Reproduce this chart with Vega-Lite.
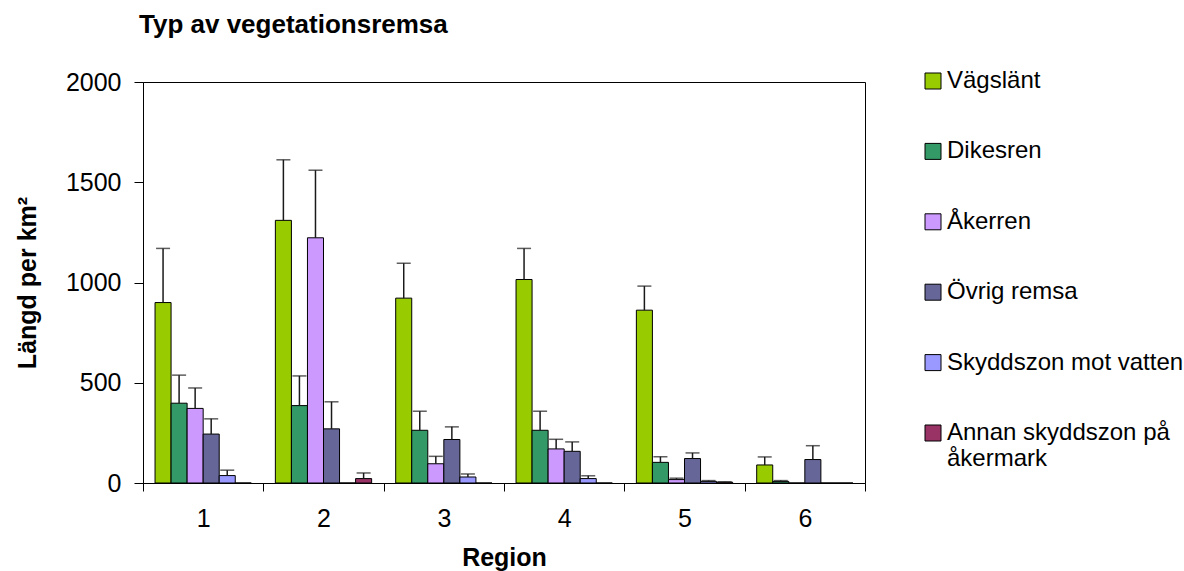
{
  "$schema": "https://vega.github.io/schema/vega-lite/v6.json",
  "width": 722,
  "height": 401,
  "autosize": {"type": "none"},
  "padding": {"left": 143, "top": 82, "right": 319, "bottom": 88},
  "background": "white",
  "title": {
    "text": "Typ av vegetationsremsa",
    "anchor": "start",
    "frame": "group",
    "font": "Liberation Sans",
    "fontSize": 26,
    "fontWeight": "bold",
    "color": "black",
    "baseline": "alphabetic",
    "offset": 10,
    "dx": -4
  },
  "config": {
    "font": "Liberation Sans",
    "view": {"stroke": "black", "strokeWidth": 1},
    "axis": {
      "grid": false,
      "domainColor": "black",
      "domainWidth": 1,
      "tickColor": "black",
      "tickWidth": 1,
      "labelColor": "black",
      "labelFont": "Liberation Sans",
      "labelFontSize": 25,
      "titleFont": "Liberation Sans",
      "titleFontSize": 25,
      "titleFontWeight": "bold",
      "titleColor": "black"
    },
    "legend": {
      "labelFont": "Liberation Sans",
      "labelFontSize": 24,
      "labelColor": "black"
    }
  },
  "data": {
    "values": [
      {"region": 1, "typ": "Vägslänt", "varde": 900, "ovre": 1170},
      {"region": 1, "typ": "Dikesren", "varde": 398, "ovre": 538},
      {"region": 1, "typ": "Åkerren", "varde": 372, "ovre": 474},
      {"region": 1, "typ": "Övrig remsa", "varde": 244, "ovre": 320},
      {"region": 1, "typ": "Skyddszon mot vatten", "varde": 37, "ovre": 64},
      {"region": 1, "typ": "Annan skyddszon på åkermark", "varde": 0, "ovre": 0},
      {"region": 2, "typ": "Vägslänt", "varde": 1310, "ovre": 1612},
      {"region": 2, "typ": "Dikesren", "varde": 386, "ovre": 534},
      {"region": 2, "typ": "Åkerren", "varde": 1223, "ovre": 1560},
      {"region": 2, "typ": "Övrig remsa", "varde": 270, "ovre": 405},
      {"region": 2, "typ": "Skyddszon mot vatten", "varde": 0, "ovre": 0},
      {"region": 2, "typ": "Annan skyddszon på åkermark", "varde": 22, "ovre": 50},
      {"region": 3, "typ": "Vägslänt", "varde": 922, "ovre": 1096},
      {"region": 3, "typ": "Dikesren", "varde": 263, "ovre": 358},
      {"region": 3, "typ": "Åkerren", "varde": 96, "ovre": 133},
      {"region": 3, "typ": "Övrig remsa", "varde": 217, "ovre": 280},
      {"region": 3, "typ": "Skyddszon mot vatten", "varde": 30, "ovre": 45},
      {"region": 3, "typ": "Annan skyddszon på åkermark", "varde": 0, "ovre": 0},
      {"region": 4, "typ": "Vägslänt", "varde": 1015, "ovre": 1170},
      {"region": 4, "typ": "Dikesren", "varde": 263, "ovre": 358},
      {"region": 4, "typ": "Åkerren", "varde": 170, "ovre": 218},
      {"region": 4, "typ": "Övrig remsa", "varde": 158, "ovre": 205},
      {"region": 4, "typ": "Skyddszon mot vatten", "varde": 22, "ovre": 36},
      {"region": 4, "typ": "Annan skyddszon på åkermark", "varde": 0, "ovre": 0},
      {"region": 5, "typ": "Vägslänt", "varde": 862, "ovre": 982},
      {"region": 5, "typ": "Dikesren", "varde": 103, "ovre": 131},
      {"region": 5, "typ": "Åkerren", "varde": 17, "ovre": 24},
      {"region": 5, "typ": "Övrig remsa", "varde": 122, "ovre": 150},
      {"region": 5, "typ": "Skyddszon mot vatten", "varde": 8, "ovre": 12},
      {"region": 5, "typ": "Annan skyddszon på åkermark", "varde": 4, "ovre": 6},
      {"region": 6, "typ": "Vägslänt", "varde": 90, "ovre": 130},
      {"region": 6, "typ": "Dikesren", "varde": 8, "ovre": 12},
      {"region": 6, "typ": "Åkerren", "varde": 0, "ovre": 0},
      {"region": 6, "typ": "Övrig remsa", "varde": 117, "ovre": 186},
      {"region": 6, "typ": "Skyddszon mot vatten", "varde": 0, "ovre": 0},
      {"region": 6, "typ": "Annan skyddszon på åkermark", "varde": 0, "ovre": 0}
    ]
  },
  "encoding": {
    "x": {
      "field": "region",
      "type": "ordinal",
      "scale": {"paddingInner": 0, "paddingOuter": 0},
      "axis": {
        "title": "Region",
        "labelAngle": 0,
        "tickBand": "extent",
        "tickSize": 8,
        "labelPadding": 15,
        "titlePadding": 14
      }
    },
    "xOffset": {
      "field": "typ",
      "type": "nominal",
      "sort": ["Vägslänt", "Dikesren", "Åkerren", "Övrig remsa", "Skyddszon mot vatten", "Annan skyddszon på åkermark"],
      "scale": {"paddingInner": 0, "paddingOuter": 0.75}
    }
  },
  "layer": [
    {
      "mark": {"type": "bar", "stroke": "black", "strokeWidth": 1},
      "encoding": {
        "y": {
          "field": "varde",
          "type": "quantitative",
          "scale": {"domain": [0, 2000], "nice": false},
          "axis": {
            "title": "Längd per km²",
            "values": [0, 500, 1000, 1500, 2000],
            "format": "d",
            "tickSize": 9,
            "labelPadding": 13,
            "titlePadding": 25
          }
        },
        "color": {
          "field": "typ",
          "type": "nominal",
          "sort": ["Vägslänt", "Dikesren", "Åkerren", "Övrig remsa", "Skyddszon mot vatten", "Annan skyddszon på åkermark"],
          "scale": {
            "domain": ["Vägslänt", "Dikesren", "Åkerren", "Övrig remsa", "Skyddszon mot vatten", "Annan skyddszon på åkermark"],
            "range": ["#99CC00", "#339966", "#CC99FF", "#666699", "#9999FF", "#993366"]
          },
          "legend": {
            "title": null,
            "orient": "none",
            "legendX": 778,
            "legendY": -13,
            "symbolType": "square",
            "symbolSize": 256,
            "symbolStrokeColor": "black",
            "symbolStrokeWidth": 1,
            "symbolOpacity": 1,
            "labelOffset": 2,
            "labelLimit": 300,
            "rowPadding": 46.4,
            "labelExpr": "datum.label == 'Annan skyddszon på åkermark' ? ['Annan skyddszon på', 'åkermark'] : datum.label"
          }
        }
      }
    },
    {
      "transform": [{"filter": "datum.ovre > datum.varde"}],
      "mark": {"type": "rule", "color": "#1a1a1a", "strokeWidth": 1.5},
      "encoding": {
        "y": {"field": "varde", "type": "quantitative"},
        "y2": {"field": "ovre"}
      }
    },
    {
      "transform": [{"filter": "datum.ovre > datum.varde"}],
      "mark": {"type": "tick", "color": "#1a1a1a", "size": 14, "thickness": 1.5},
      "encoding": {
        "y": {"field": "ovre", "type": "quantitative"}
      }
    }
  ]
}
